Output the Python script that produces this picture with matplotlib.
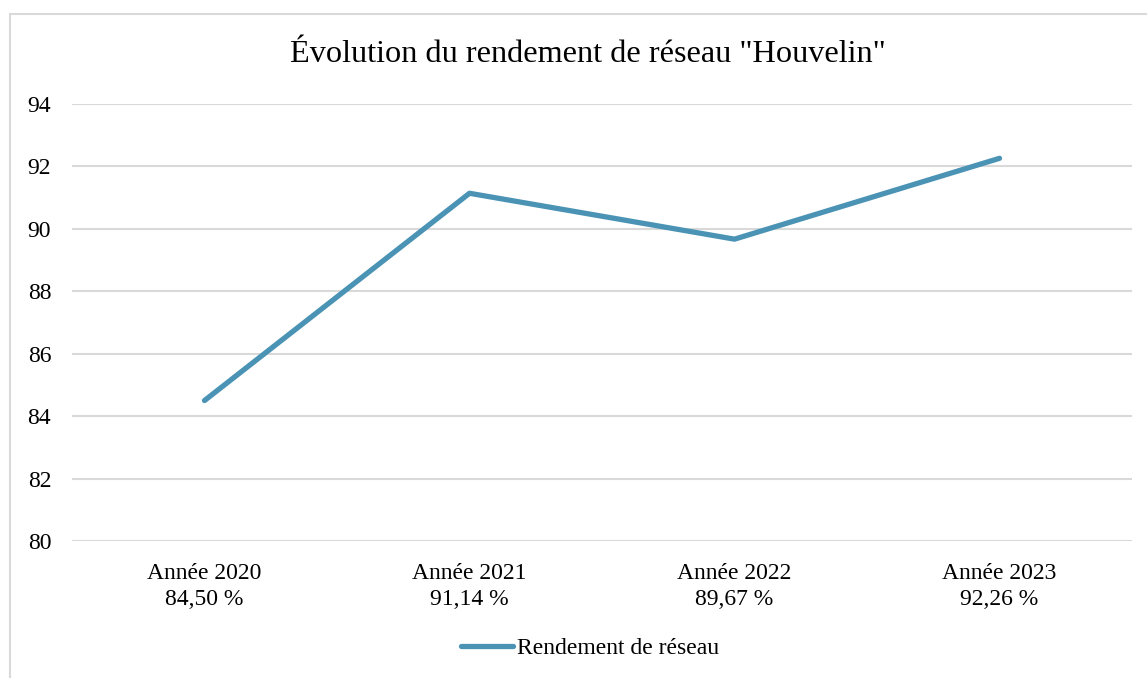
import numpy as np
import matplotlib.pyplot as plt
from matplotlib.patches import Rectangle

plt.rcParams['font.family'] = ['Liberation Serif', 'DejaVu Serif']

# data
annees = ['Année 2020', 'Année 2021', 'Année 2022', 'Année 2023']
rendement = [84.50, 91.14, 89.67, 92.26]
etiquettes = ['Année 2020\n84,50 %', 'Année 2021\n91,14 %', 'Année 2022\n89,67 %', 'Année 2023\n92,26 %']
y_ticks = [80, 82, 84, 86, 88, 90, 92, 94]

W, H = 1147, 678
fig = plt.figure(figsize=(W / 100, H / 100), dpi=100)
ax = fig.add_axes([72 / W, 1 - 541 / H, (1132 - 72) / W, (541 - 104) / H])

# chart border (cut at right and bottom like the screenshot)
fig.patches.append(Rectangle((10 / W, -0.1), 1.2, 1 - 14 / H + 0.1, transform=fig.transFigure,
                             fill=False, edgecolor='#d9d9d9', linewidth=1.5))

x = np.arange(len(annees)) + 0.5
ax.plot(x, rendement, color='#4a93b5', linewidth=3.8, solid_capstyle='round',
        solid_joinstyle='round', label='Rendement de réseau')

ax.set_xlim(0, len(annees))
ax.set_ylim(80, 94)
ax.set_yticks(y_ticks)
ax.set_xticks(x)
ax.set_xticklabels(etiquettes, fontsize=17, linespacing=1.3)
ax.tick_params(axis='y', labelsize=17, length=0, pad=15)
ax.tick_params(axis='x', length=0, pad=16)
ax.grid(axis='y', color='#d9d9d9', linewidth=1.5)
ax.set_axisbelow(True)
for s in ax.spines.values():
    s.set_visible(False)

fig.text(588 / W, 1 - 55 / H, 'Évolution du rendement de réseau "Houvelin"', fontsize=23.2,
         ha='center', va='center')

fig.legend(loc='center', bbox_to_anchor=(590 / W, 1 - 648 / H), frameon=False, fontsize=17,
           handlelength=2.2, handletextpad=0.2)

fig.savefig('out.png', dpi=100)
